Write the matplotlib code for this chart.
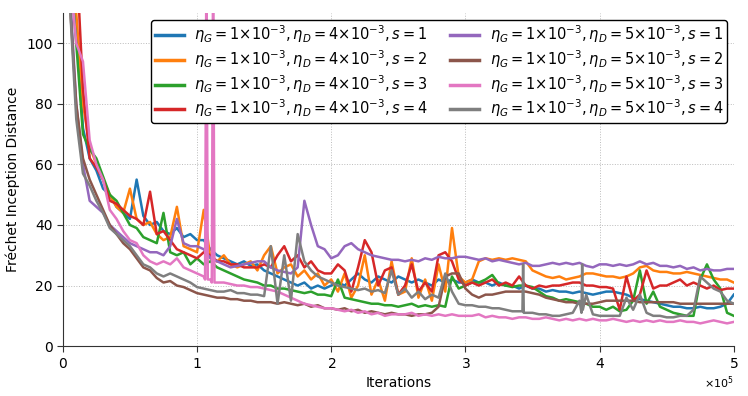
import numpy as np
import matplotlib
matplotlib.use('Agg')
import matplotlib.pyplot as plt
from matplotlib.ticker import ScalarFormatter

# iterations: every 5000 steps
iters = np.arange(1, 101) * 5000

# eta_D = 4e-3
fid_d4_s1 = [130, 105, 72, 62, 58, 52, 50, 46, 44, 42,
             55, 43, 40, 41, 38, 37, 39, 36, 37, 35,
             35, 32, 30, 29, 28, 27, 28, 26.5, 27, 25,
             24, 23, 22, 21, 20, 21, 19, 20, 19, 20,
             21, 20, 22, 24, 22, 21, 23, 22, 21, 23,
             22, 21, 22, 21, 20, 22, 21, 22, 21, 21,
             22, 21, 21, 20, 21, 20, 20, 19, 20, 19,
             19, 18, 18.5, 18, 18, 17.5, 18, 17.5, 17, 17.5,
             18, 18, 17.5, 17, 16, 15.5, 15, 14.5, 14, 13.5,
             13, 13, 12.5, 12.5, 13, 12.5, 12.5, 13, 14, 17]
fid_d4_s2 = [135, 110, 80, 66, 60, 55, 50, 46, 44, 52,
             42, 40, 41, 37, 35, 36, 46, 33, 32, 31,
             45, 29, 28, 30, 27, 26, 27, 28, 25, 30,
             33, 24, 26, 27, 23, 25, 22, 24, 20, 22,
             18, 24, 16, 20, 30, 17, 22, 15, 28, 17,
             18, 29, 16, 22, 15, 27, 18, 39, 23, 21,
             22, 28, 29, 28.5, 29, 28.5, 29, 28.5, 28, 25,
             24, 23, 22.5, 23, 22, 22.5, 23, 24, 24, 23.5,
             23, 23, 22.5, 23, 24, 26, 26.5, 25, 24.5, 24.5,
             24, 24, 24.5, 24, 23.5, 23, 22.5, 22, 22, 21]
fid_d4_s3 = [128, 100, 70, 65, 62, 56, 50, 48, 44, 40,
             39, 36, 35, 34, 44, 31, 30, 31, 27, 29,
             27, 28, 26, 25, 24, 23, 22, 21.5, 21, 20,
             20, 19, 19, 18.5, 18, 17.5, 18, 17, 17, 16.5,
             22, 16, 15.5, 15, 14.5, 14, 14, 13.5, 13.5, 13,
             13.5, 14, 13, 13.5, 13, 13.5, 13, 23, 19, 20,
             21, 21, 22, 23.5, 20.5, 20, 19.5, 20, 20, 19.5,
             18, 16.5, 16, 15, 15.5, 15, 14.5, 14, 13, 13,
             12, 13, 11.5, 12, 15, 25, 14, 18, 13, 12,
             11, 10.5, 10, 10, 22, 27, 22, 19, 11, 10]
fid_d4_s4 = [130, 130, 85, 62, 59, 55, 48, 47, 45, 43,
             42, 40, 51, 37, 38, 35, 32, 31, 30, 29,
             31, 30, 28, 28, 27, 27, 26, 26, 26, 27,
             26, 30, 33, 28, 30, 26, 28, 25, 24, 24,
             27, 25, 18, 26, 35, 31, 20, 25, 26, 17,
             20, 27, 18, 21, 18, 30, 31, 28, 22, 20,
             21, 20, 21, 22, 20, 21, 20, 23, 20, 19,
             20, 19.5, 20, 20, 20.5, 21, 21, 20, 20, 19.5,
             19.5, 19, 12, 23, 15, 17, 25, 19, 20, 20,
             21, 22, 20, 21, 20, 19, 20, 18.5, 19, 19]

# eta_D = 5e-3
fid_d5_s1 = [120, 80, 60, 48, 46, 44, 40, 38, 36, 34,
             33, 32, 31, 31, 30, 33, 42, 34, 33, 33,
             32, 29, 28, 27, 26, 26.5, 27, 27.5, 28, 28,
             26, 25, 24.5, 24, 26, 48, 40, 33, 32, 29,
             30, 33, 34, 32, 31, 30, 29.5, 29, 28.5, 28.5,
             28, 28.5, 28, 29, 28.5, 29.5, 29, 29, 29.5, 29.5,
             29, 28.5, 29, 28, 28.5, 28, 27.5, 27, 27.5, 26.5,
             26.5, 27, 27.5, 27, 27.5, 27, 27.5, 26.5, 26, 27,
             27, 26.5, 27, 26.5, 27, 28, 27, 27.5, 26.5, 26.5,
             26, 26.5, 25.5, 26, 25, 25.5, 25, 25, 25.5, 25.5]
fid_d5_s2 = [115, 80, 62, 55, 50, 45, 40, 37, 34, 32,
             29, 26, 25, 22.5, 21, 21.5, 20, 19.5, 18.5, 17.5,
             17, 16.5, 16, 16, 15.5, 15.5, 15, 15, 14.5, 14.5,
             14.5, 14, 14.5, 14, 13.5, 14, 13, 13.5, 12.5, 12.5,
             12, 12.5, 11.5, 12, 11, 11.5, 11, 10.5, 11, 10.5,
             10.5, 10, 10.5, 10.5, 11, 13, 23, 24, 24, 19,
             17, 16, 17, 17, 17.5, 18, 18, 18, 18, 17.5,
             17, 16, 15.5, 15, 14.5, 14.5, 14, 14, 14, 14.5,
             15, 15, 15, 15, 15, 14.5, 14.5, 14.5, 14.5, 14.5,
             14.5, 14, 14, 14, 14, 14, 14, 14, 14, 14]
fid_d5_s3 = [125, 100, 94, 68, 60, 55, 45, 42, 38, 35,
             34, 30, 28, 27, 28, 27, 29, 26, 25, 24,
             23, 22, 21, 21, 20.5, 20, 20, 19.5, 19.5, 19,
             18.5, 18, 17, 16, 15, 14, 13.5, 13, 12.5, 12.5,
             12, 11.5, 12, 11, 11.5, 10.5, 11, 10, 10.5, 10.5,
             10.5, 11, 10, 10.5, 10, 10.5, 10, 10.5, 10, 10,
             10, 10.5, 9.5, 10, 9.5, 9.5, 9, 9.5, 9.5, 9,
             9, 9.5, 9, 8.5, 9, 8.5, 9, 8.5, 9, 8.5,
             8.5, 9, 8.5, 8, 8.5, 8, 8.5, 8, 8.5, 8,
             8, 8.5, 8, 8, 7.5, 8, 8.5, 8, 7.5, 8]
fid_d5_s4 = [115, 75, 57, 53, 48, 44, 39, 37, 35, 33,
             30, 27, 26, 24, 23, 24, 23, 22, 21, 19.5,
             19, 18.5, 18, 18, 18.5, 17.5, 17.5, 17, 17, 16.5,
             33, 14, 30, 15, 37, 28, 25, 23, 22, 21,
             20, 19.5, 19, 18.5, 19, 18, 18.5, 17.5, 25, 17,
             19, 16, 18, 15.5, 17, 16, 24, 18, 14, 13.5,
             13.5, 13, 13, 12.5, 12.5, 12, 11.5, 11.5, 11, 11,
             10.5, 10.5, 10, 10, 10.5, 11, 15, 17, 10.5, 10,
             10, 10, 10, 16, 12, 17, 11, 10, 10, 9.5,
             9.5, 10, 10, 12, 23, 21, 19, 18, 15, 14]

# narrow spikes (iteration, FID)
spikes_d5_s3 = [(106000, 22), (107000, 130), (108000, 22),
                (111000, 21), (112000, 130), (113000, 21)]
spikes_d5_s4 = [(342500, 11.5), (343000, 27), (343500, 11),
                (386500, 11), (387000, 27), (387500, 12)]

series = [
    (fid_d4_s1, [], r'$\eta_G=1{\times}10^{-3}, \eta_D=4{\times}10^{-3}, s=1$'),
    (fid_d4_s2, [], r'$\eta_G=1{\times}10^{-3}, \eta_D=4{\times}10^{-3}, s=2$'),
    (fid_d4_s3, [], r'$\eta_G=1{\times}10^{-3}, \eta_D=4{\times}10^{-3}, s=3$'),
    (fid_d4_s4, [], r'$\eta_G=1{\times}10^{-3}, \eta_D=4{\times}10^{-3}, s=4$'),
    (fid_d5_s1, [], r'$\eta_G=1{\times}10^{-3}, \eta_D=5{\times}10^{-3}, s=1$'),
    (fid_d5_s2, [], r'$\eta_G=1{\times}10^{-3}, \eta_D=5{\times}10^{-3}, s=2$'),
    (fid_d5_s3, spikes_d5_s3, r'$\eta_G=1{\times}10^{-3}, \eta_D=5{\times}10^{-3}, s=3$'),
    (fid_d5_s4, spikes_d5_s4, r'$\eta_G=1{\times}10^{-3}, \eta_D=5{\times}10^{-3}, s=4$'),
]

fig = plt.figure(figsize=(7.48, 3.96), dpi=100)
ax = fig.add_axes([0.084, 0.126, 0.897, 0.841])

for vals, spikes, label in series:
    x = np.concatenate([iters, [s[0] for s in spikes]])
    y = np.concatenate([vals, [s[1] for s in spikes]])
    order = np.argsort(x, kind='stable')
    ax.plot(x[order], y[order], lw=1.8, label=label)

ax.set_xlim(0, 5e5)
ax.set_ylim(0, 110)
ax.set_yticks([0, 20, 40, 60, 80, 100])
fmt = ScalarFormatter(useMathText=True)
fmt.set_powerlimits((0, 0))
ax.xaxis.set_major_formatter(fmt)
ax.xaxis.get_offset_text().set_fontsize(8)

ax.grid(True, ls=':', color='#bbbbbb', lw=0.7)
ax.spines['top'].set_visible(False)
ax.spines['right'].set_visible(False)
for s in ['left', 'bottom']:
    ax.spines[s].set_color('#333333')
ax.tick_params(labelsize=10, color='#333333', length=4)

ax.set_xlabel('Iterations', fontsize=10)
ax.set_ylabel('Fréchet Inception Distance', fontsize=10)

leg = ax.legend(loc='upper right', bbox_to_anchor=(0.99, 0.979), ncol=2,
                fontsize=10.5, framealpha=1, edgecolor='black',
                columnspacing=1.5, handlelength=2.0, handletextpad=0.7,
                labelspacing=0.2, borderpad=0.25, borderaxespad=0)
leg.get_frame().set_linewidth(1.0)
for h in leg.get_lines():
    h.set_linewidth(2.5)

fig.savefig('out.png', dpi=100)
